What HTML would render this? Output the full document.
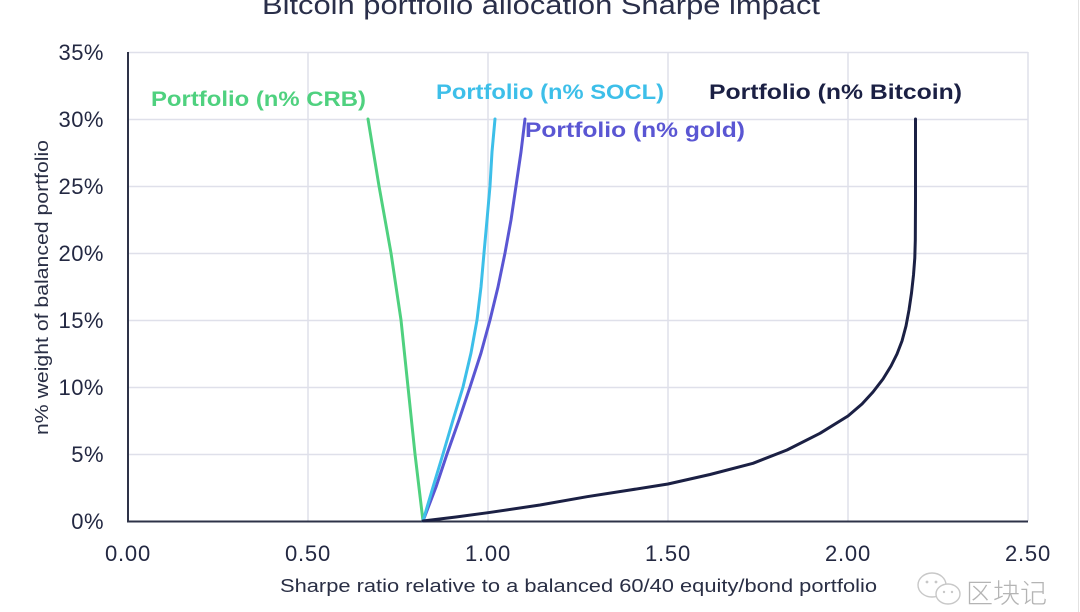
<!DOCTYPE html>
<html>
<head>
<meta charset="utf-8">
<style>
html,body{margin:0;padding:0;background:#fff;}
svg{display:block;}
</style>
</head>
<body>
<svg width="1080" height="612" viewBox="0 0 1080 612" xmlns="http://www.w3.org/2000/svg" font-family="'Liberation Sans', 'Noto Sans CJK SC', sans-serif">
  <rect x="0" y="0" width="1080" height="612" fill="#fff"/>
  <!-- title (cut at top) -->
  <text x="262" y="14" font-size="27" fill="#2a2f4a" textLength="558" lengthAdjust="spacingAndGlyphs">Bitcoin portfolio allocation Sharpe impact</text>

  <!-- grid -->
  <g stroke="#dfe0ea" stroke-width="1.5" fill="none">
    <line x1="128" y1="52.5" x2="1028" y2="52.5"/>
    <line x1="128" y1="119.5" x2="1028" y2="119.5"/>
    <line x1="128" y1="186.5" x2="1028" y2="186.5"/>
    <line x1="128" y1="253.5" x2="1028" y2="253.5"/>
    <line x1="128" y1="320.5" x2="1028" y2="320.5"/>
    <line x1="128" y1="387.5" x2="1028" y2="387.5"/>
    <line x1="128" y1="454.5" x2="1028" y2="454.5"/>
    <line x1="308" y1="52" x2="308" y2="521"/>
    <line x1="488" y1="52" x2="488" y2="521"/>
    <line x1="668" y1="52" x2="668" y2="521"/>
    <line x1="848" y1="52" x2="848" y2="521"/>
    <line x1="1028" y1="52" x2="1028" y2="521"/>
  </g>
  <!-- axes -->
  <line x1="128" y1="52" x2="128" y2="522" stroke="#2e3348" stroke-width="2"/>
  <line x1="127" y1="521.5" x2="1028" y2="521.5" stroke="#2e3348" stroke-width="2"/>

  <!-- right edge line -->
  <line x1="1078.5" y1="0" x2="1078.5" y2="612" stroke="#e2e2e2" stroke-width="1"/>

  <!-- y tick labels -->
  <g font-size="22" fill="#232842" text-anchor="end" letter-spacing="0.5">
    <text x="104" y="60">35%</text>
    <text x="104" y="127">30%</text>
    <text x="104" y="194">25%</text>
    <text x="104" y="261">20%</text>
    <text x="104" y="328">15%</text>
    <text x="104" y="395">10%</text>
    <text x="104" y="462">5%</text>
    <text x="104" y="529">0%</text>
  </g>
  <!-- x tick labels -->
  <g font-size="22" fill="#232842" text-anchor="middle" letter-spacing="0.8">
    <text x="128" y="561">0.00</text>
    <text x="308" y="561">0.50</text>
    <text x="488" y="561">1.00</text>
    <text x="668" y="561">1.50</text>
    <text x="848" y="561">2.00</text>
    <text x="1028" y="561">2.50</text>
  </g>

  <!-- axis titles -->
  <text x="280" y="592" font-size="18" fill="#2a2f45" textLength="597" lengthAdjust="spacingAndGlyphs">Sharpe ratio relative to a balanced 60/40 equity/bond portfolio</text>
  <text transform="translate(48,435) rotate(-90)" x="0" y="0" font-size="18" fill="#2a2f45" textLength="295" lengthAdjust="spacingAndGlyphs">n% weight of balanced portfolio</text>

  <!-- series -->
  <g fill="none" stroke-width="3" stroke-linejoin="round" stroke-linecap="round">
    <polyline stroke="#4fd17f" points="423,521 415,454 408,387 401,320 391,253 379,186 368,119"/>
    <polyline stroke="#5a56d3" points="423,521 436,487 447,454 459,420 470,387 481,353 490,320 498,287 505,253 511,220 516,186 521,152 525,119"/>
    <polyline stroke="#3dbfe9" points="423,521 433,487 443,454 453,420 463,387 471,353 477,320 481,287 484,253 487,220 490,186 492,152 495,119"/>
    <path stroke="#1b2044" d="M423,521 L456,517 L488,512.7 L540,505 L587,496.7 L630,490 L668,484 L710,474.5 L753,463.3 L787,450 L820,433.3 L848,416 L862,404 L873,392 L883,379 L891,366 L897,354 L902,341 L906,326 L909,310 L911.5,293 L913.5,275 L914.8,258 L915.3,240 L915.5,200 L915.5,119"/>
  </g>

  <!-- series labels -->
  <g font-size="21" font-weight="bold">
    <text x="151" y="106" fill="#4fd17f" textLength="215" lengthAdjust="spacingAndGlyphs">Portfolio (n% CRB)</text>
    <text x="436" y="99" fill="#3dbfe9" textLength="228" lengthAdjust="spacingAndGlyphs">Portfolio (n% SOCL)</text>
    <text x="709" y="99" fill="#1b2044" textLength="253" lengthAdjust="spacingAndGlyphs">Portfolio (n% Bitcoin)</text>
    <text x="525" y="137" fill="#5a56d3" textLength="220" lengthAdjust="spacingAndGlyphs">Portfolio (n% gold)</text>
  </g>

  <!-- watermark -->
  <g fill="none" stroke="#c8c8c8" stroke-width="1.4">
    <ellipse cx="932" cy="585" rx="14" ry="12"/>
    <ellipse cx="948" cy="594" rx="12" ry="10" fill="#fff"/>
  </g>
  <g fill="#c8c8c8">
    <circle cx="927" cy="582" r="1.4"/>
    <circle cx="936" cy="582" r="1.4"/>
    <circle cx="944" cy="592" r="1.2"/>
    <circle cx="952" cy="592" r="1.2"/>
  </g>
  <text x="966" y="603" font-size="27" fill="#b4b4b4" font-family="'Noto Sans CJK SC', 'WenQuanYi Zen Hei', sans-serif" font-weight="300">区块记</text>
</svg>
</body>
</html>
